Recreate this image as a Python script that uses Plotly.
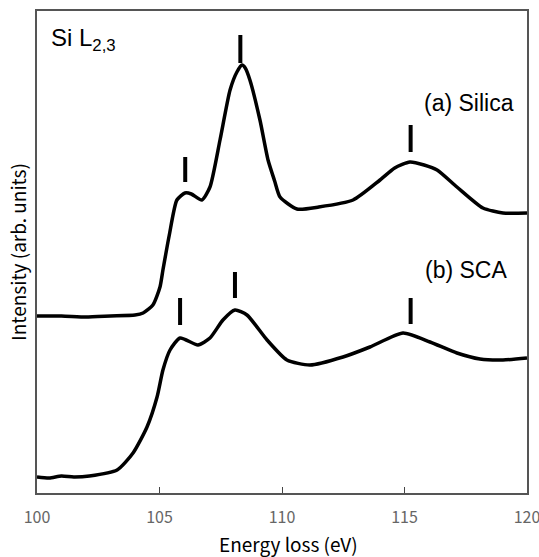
import plotly.graph_objects as go

# Energy loss (eV) and intensity (arb. units)
silica_x = [100.0, 101.0, 102.0, 103.0, 104.0, 104.33, 104.73, 105.02, 105.14, 105.4, 105.71, 106.04, 106.3,
            106.73, 107.06, 107.47, 107.88, 108.16, 108.37, 108.5, 108.69, 109.1, 109.43, 109.7, 109.92,
            110.61, 111.5, 112.9, 114.0, 114.6, 115.22, 115.8, 116.33, 117.14, 118.2, 119.02, 120.0]
silica_y = [177, 177, 176, 177, 178, 180, 188, 206, 223, 258, 293, 300, 299,
            293, 306, 353, 403, 421, 428, 425, 413, 373, 333, 312, 296,
            284, 286, 293, 313, 325, 331, 328, 323, 306, 285, 280, 280]

sca_x = [100.0, 100.5, 101.0, 101.5, 102.14, 103.27, 103.92, 104.49, 104.9, 105.14, 105.43, 105.84, 106.57,
         107.06, 107.59, 108.08, 108.57, 109.39, 110.2, 111.14, 112.49, 113.59, 114.94, 116.04, 117.14,
         118.08, 119.02, 120.0]
sca_y = [16, 15, 17, 16, 17, 23, 40, 66, 96, 123, 143, 155, 148,
         155, 173, 183, 178, 153, 133, 128, 136, 146, 160, 151, 140,
         134, 133, 135]

# Peak marker bars (energy, bar bottom, bar top)
silica_peaks = [106.05, 108.3, 115.25]
silica_bar_lo = [311, 430, 341]
silica_bar_hi = [336, 458, 368]
sca_peaks = [105.84, 108.08, 115.25]
sca_bar_lo = [168, 195, 169]
sca_bar_hi = [195, 221, 195]

x_ticks = [100, 105, 110, 115, 120]


def bars(xs, lo, hi):
    bx, by = [], []
    for x, a, b in zip(xs, lo, hi):
        bx += [x, x, None]
        by += [a, b, None]
    return bx, by


fig = go.Figure()
fig.add_trace(go.Scatter(x=silica_x, y=silica_y, mode="lines", line=dict(color="black", width=3.5, shape="spline", smoothing=0.6), hoverinfo="skip"))
fig.add_trace(go.Scatter(x=sca_x, y=sca_y, mode="lines", line=dict(color="black", width=3.5, shape="spline", smoothing=0.6), hoverinfo="skip"))
for xs, lo, hi in [(silica_peaks, silica_bar_lo, silica_bar_hi), (sca_peaks, sca_bar_lo, sca_bar_hi)]:
    bx, by = bars(xs, lo, hi)
    fig.add_trace(go.Scatter(x=bx, y=by, mode="lines", line=dict(color="black", width=4), hoverinfo="skip"))

jp = "Noto Sans CJK JP, Arial, sans-serif"
ar = "Arial, Liberation Sans, sans-serif"
fig.add_annotation(text="Si L<sub>2,3</sub>", xref="paper", yref="paper", x=0.024, y=0.941,
                   xanchor="left", yanchor="middle", showarrow=False, font=dict(family=ar, size=24, color="black"))
fig.add_annotation(text="(a) Silica", xref="paper", yref="paper", x=0.978, y=0.81,
                   xanchor="right", yanchor="middle", showarrow=False, font=dict(family=ar, size=23, color="black"))
fig.add_annotation(text="(b) SCA", xref="paper", yref="paper", x=0.964, y=0.462,
                   xanchor="right", yanchor="middle", showarrow=False, font=dict(family=ar, size=23, color="black"))
fig.add_annotation(text="Energy loss (eV)", xref="paper", yref="paper", x=0.514, y=-0.104,
                   xanchor="center", yanchor="middle", showarrow=False, font=dict(family=jp, size=19, color="black"))

fig.update_layout(
    width=539, height=557,
    margin=dict(l=37, r=12, t=11, b=64, autoexpand=False),
    paper_bgcolor="white", plot_bgcolor="white",
    showlegend=False,
    font=dict(family=jp, color="black"),
)
fig.update_xaxes(
    range=[100, 120], tickvals=x_ticks, ticktext=[str(t) for t in x_ticks],
    ticks="inside", ticklen=6, tickwidth=1, tickcolor="#444",
    ticklabeloverflow="allow", ticklabelstandoff=9,
    showgrid=False, zeroline=False, automargin=False,
    showline=True, linecolor="#555", linewidth=1.5, mirror=True,
    tickfont=dict(family=jp, size=16, color="#666"),
)
fig.update_yaxes(
    range=[0, 482], showticklabels=False, ticks="",
    showgrid=False, zeroline=False, automargin=False,
    showline=True, linecolor="#555", linewidth=1.5, mirror=True,
    title=dict(text="Intensity (arb. units)", font=dict(family=jp, size=19, color="black"), standoff=4),
)

fig.write_html("out.html")
